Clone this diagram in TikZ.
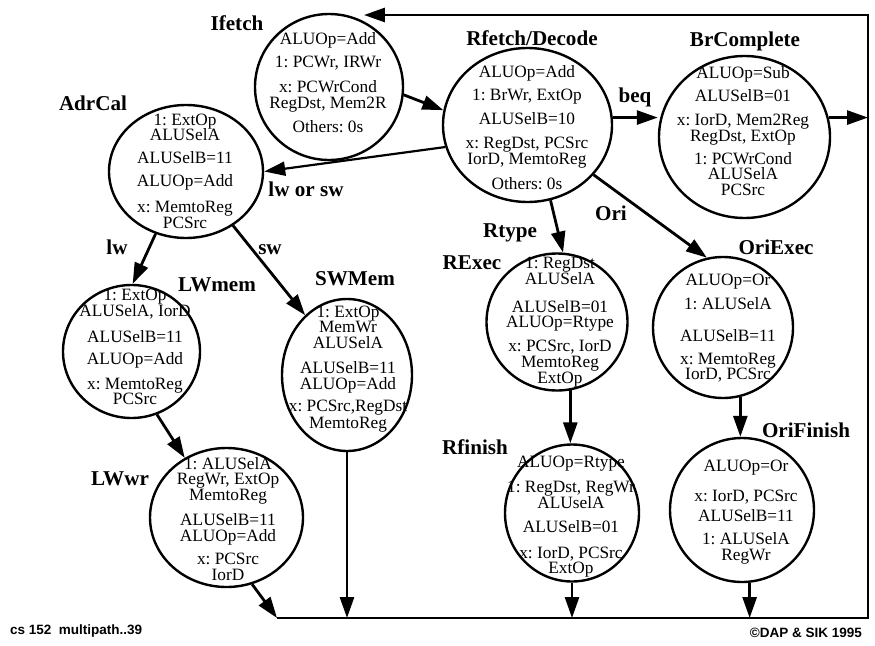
\documentclass[tikz,border=0pt]{standalone}
\usepackage{fontspec}
\setmainfont{Liberation Serif}
\newfontfamily\footfont{Liberation Sans}
\usetikzlibrary{shapes.geometric,arrows.meta}
\frenchspacing
\newcommand\sttextfont{\fontsize{17.3}{15.5}\selectfont\frenchspacing\lineskiplimit=-100pt\relax}
\newcommand\stlabelfont{\fontsize{21.1}{24}\selectfont\bfseries}
\newcommand\stfootfont{\footfont\bfseries\fontsize{13.5}{15}\selectfont}
\begin{document}
\begin{tikzpicture}[x=1pt,y=-1pt,
  stbox/.style={ellipse, draw, line width=2.4pt, inner sep=0pt},
  sttext/.style={align=center, inner sep=0pt, font=\sttextfont},
  stlabel/.style={anchor=base, inner sep=0pt, font=\stlabelfont},
  conn/.style={line width=2.8pt, -{Triangle[length=21pt,width=14pt]}},
  footl/.style={inner sep=0pt, font=\stfootfont},
]
\useasboundingbox (0,0) rectangle (875,645);
\fill[white] (0,0) rectangle (875,645);

% states
\node[stbox, minimum width=148pt, minimum height=146pt] (ifetch) at (329,87) {};
\node[sttext] (ifetch-t) at (328,83) {ALUOp=Add\\[7.5pt]1: PCWr, IRWr\\[9.5pt]x: PCWrCond\\[0.5pt]RegDst, Mem2R\\[8.5pt]Others: 0s};

\node[stbox, minimum width=169pt, minimum height=154pt] (rfetch) at (527.5,125) {};
\node[sttext] (rfetch-t) at (527,127.5) {ALUOp=Add\\[7.5pt]1: BrWr, ExtOp\\[8.5pt]ALUSelB=10\\[8.5pt]x: RegDst, PCSrc\\IorD, MemtoReg\\[9.5pt]Others: 0s};

\node[stbox, minimum width=171pt, minimum height=162pt] (brc) at (744.5,137) {};
\node[sttext] (brc-t) at (743,131) {ALUOp=Sub\\[7.5pt]ALUSelB=01\\[8.5pt]x: IorD, Mem2Reg\\[0.5pt]RegDst, ExtOp\\[7.5pt]1: PCWrCond\\ALUSelA\\PCSrc};

\node[stbox, minimum width=154pt, minimum height=133pt] (adrcal) at (186,171.5) {};
\node[sttext] (adrcal-t) at (185,171) {1: ExtOp\\ALUSelA\\[7.5pt]ALUSelB=11\\[7.5pt]ALUOp=Add\\[10.5pt]x: MemtoReg\\PCSrc};

\node[stbox, minimum width=137pt, minimum height=133pt] (lwmem) at (131.5,351.5) {};
\node[sttext] (lwmem-t) at (135,347) {1: ExtOp\\ALUSelA, IorD\\[10.5pt]ALUSelB=11\\[6.5pt]ALUOp=Add\\[9.5pt]x: MemtoReg\\PCSrc};

\node[stbox, minimum width=130pt, minimum height=152pt] (swmem) at (347,375) {};
\node[sttext] (swmem-t) at (348,369) {1: ExtOp\\MemWr\\ALUSelA\\[9.5pt]ALUSelB=11\\[0.5pt]ALUOp=Add\\[6.5pt]x: PCSrc,RegDst\\[1.5pt]MemtoReg};

\node[stbox, minimum width=153pt, minimum height=139pt] (lwwr) at (226.5,517.5) {};
\node[sttext] (lwwr-t) at (228,519) {1: ALUSelA\\RegWr, ExtOp\\[0.5pt]MemtoReg\\[9.5pt]ALUSelB=11\\[0.5pt]ALUOp=Add\\[7.5pt]x: PCSrc\\[0.5pt]IorD};

\node[stbox, minimum width=141pt, minimum height=137pt] (rexec) at (557,322) {};
\node[sttext] (rexec-t) at (560,322) {1: RegDst\\ALUSelA\\[12.5pt]ALUSelB=01\\ALUOp=Rtype\\[8.5pt]x: PCSrc, IorD\\MemtoReg\\[0.5pt]ExtOp};

\node[stbox, minimum width=134pt, minimum height=137pt] (rfinish) at (572,513) {};
\node[sttext] (rfinish-t) at (571,517) {ALUOp=Rtype\\[9.5pt]1: RegDst, RegWr\\ALUselA\\[9pt]ALUSelB=01\\[10pt]x: IorD, PCSrc\\ExtOp};

\node[stbox, minimum width=140pt, minimum height=141pt] (oriexec) at (723,327.5) {};
\node[sttext] (oriexec-t) at (728,328) {ALUOp=Or\\[8.5pt]1: ALUSelA\\[16.5pt]ALUSelB=11\\[7.5pt]x: MemtoReg\\IorD, PCSrc};

\node[stbox, minimum width=144pt, minimum height=144pt] (orifin) at (742,510) {};
\node[sttext] (orifin-t) at (746,512) {ALUOp=Or\\[15pt]x: IorD, PCSrc\\[4.5pt]ALUSelB=11\\[7.5pt]1: ALUSelA\\RegWr};

% state names and edge labels
\node[stlabel] (l-ifetch) at (237,30) {Ifetch};
\node[stlabel] (l-rfetch) at (532,45) {Rfetch/Decode};
\node[stlabel] (l-brc) at (745,46) {BrComplete};
\node[stlabel] (l-adrcal) at (93,110) {AdrCal};
\node[stlabel] (l-lwmem) at (217,291) {LWmem};
\node[stlabel] (l-swmem) at (355,285) {SWMem};
\node[stlabel] (l-lwwr) at (120,485) {LWwr};
\node[stlabel] (l-rexec) at (472,269) {RExec};
\node[stlabel] (l-rtype) at (510,237) {Rtype};
\node[stlabel] (l-rfinish) at (475,454) {Rfinish};
\node[stlabel] (l-oriexec) at (776,254) {OriExec};
\node[stlabel] (l-orifin) at (806,437) {OriFinish};
\node[stlabel] (l-ori) at (611,220) {Ori};
\node[stlabel] (l-beq) at (635,102) {beq};
\node[stlabel] (l-lw) at (117,254) {lw};
\node[stlabel] (l-sw) at (270,254) {sw};
\node[stlabel] (l-lwsw) at (306,196) {lw or sw};

% loop corners
\coordinate (tr) at (868,15);
\coordinate (br) at (868,618);
\coordinate (bl) at (277,618);

% connectors
\draw[conn] (bl) -- (br) -- (tr) -- (tr -| ifetch.62);
\draw[conn] (ifetch.-6) -- (rfetch.170);
\draw[conn] (rfetch.5) -- (rfetch.5 -| brc.west);
\draw[conn] (brc.13) -- (brc.13 -| tr);
\draw[conn, line width=2.2pt] (rfetch.195) -- (adrcal.east);
\draw[conn] (rfetch.-73) -- (rexec.85);
\draw[conn] (rfetch.-37) -- (oriexec.103);
\draw[conn] (adrcal.-116) -- (lwmem.89);
\draw[conn] (adrcal.-49) -- (swmem.125);
\draw[conn] (lwmem.-68) -- (lwwr.125);
\draw[conn] (lwwr.-69) -- (bl);
\draw[conn] (swmem.south) -- (swmem.south |- bl);
\draw[conn] (rexec.-79) -- (rexec.-79 |- rfinish.north);
\draw[conn] (rfinish.south) -- (rfinish.south |- bl);
\draw[conn] (oriexec.-76) -- (oriexec.-76 |- orifin.north);
\draw[conn] (orifin.-84) -- (orifin.-84 |- bl);

% footer
\node[footl, anchor=base west] (foot-l) at (10,634) {cs 152~~multipath..39};
\node[footl, anchor=base east] (foot-r) at (862,637) {\textcopyright DAP \& SIK 1995};
\end{tikzpicture}
\end{document}
